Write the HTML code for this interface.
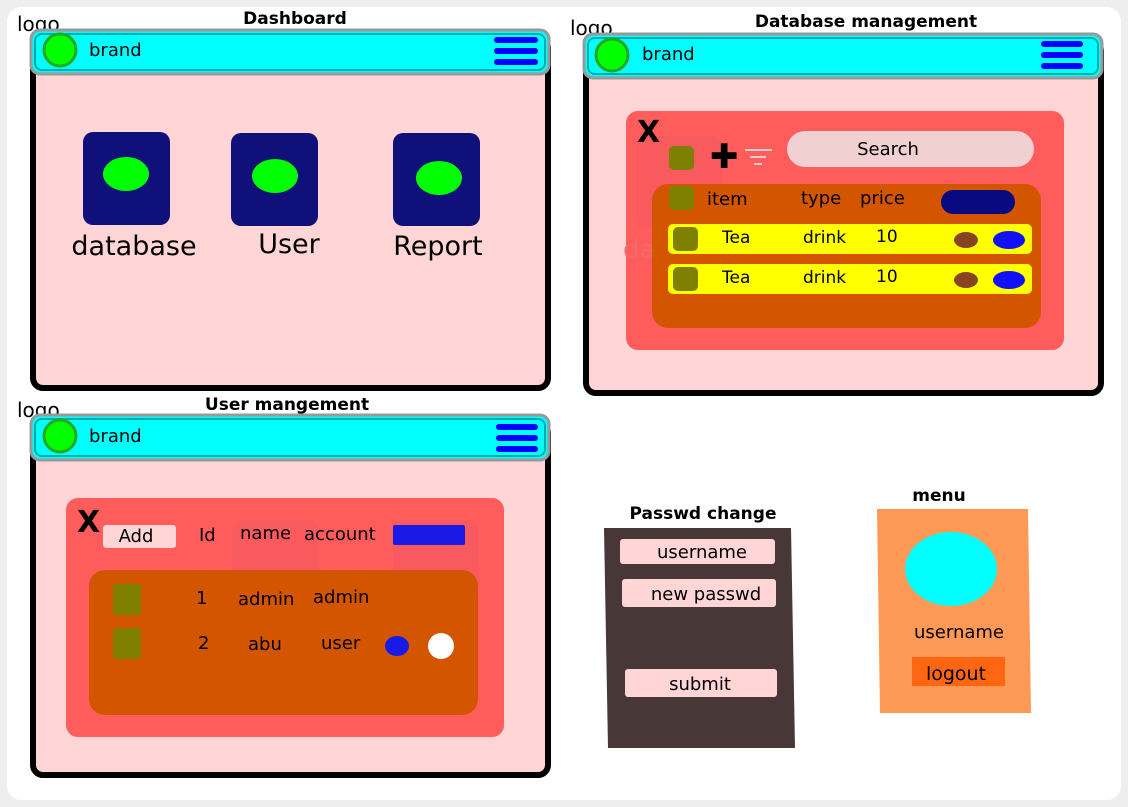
<!DOCTYPE html>
<html><head><style>body{margin:0;background:#eee}svg{display:block}text{font-family:"DejaVu Sans","Liberation Sans",sans-serif}</style></head><body>
<svg width="1128" height="807" viewBox="0 0 1128 807" xmlns="http://www.w3.org/2000/svg">
<rect x="0" y="0" width="1128" height="807" fill="#eeeeee"/>
<rect x="7" y="7" width="1114" height="793" rx="14" fill="#ffffff"/>

<text x="295" y="24" font-size="17" font-weight="bold" text-anchor="middle">Dashboard</text>
<text x="17" y="31" font-size="20">logo</text>
<rect x="33" y="38" width="515" height="350" rx="10" fill="#ffd5d5" stroke="#000" stroke-width="6"/>
<rect x="31" y="30" width="518" height="44" rx="9" fill="#00ffff" stroke="#999" stroke-width="3"/>
<rect x="35" y="34" width="510" height="36" rx="7" fill="none" stroke="#00aaaa" stroke-width="2"/>
<circle cx="60" cy="50" r="16" fill="#00ff00" stroke="#22aa22" stroke-width="3"/>
<text x="89" y="56" font-size="18">brand</text>
<g stroke="#0000ff" stroke-width="6" stroke-linecap="round"><line x1="497" y1="40" x2="535" y2="40"/><line x1="497" y1="51" x2="535" y2="51"/><line x1="497" y1="62" x2="535" y2="62"/></g>
<g fill="#10107a"><rect x="83" y="132" width="87" height="93" rx="10"/><rect x="231" y="133" width="87" height="93" rx="10"/><rect x="393" y="133" width="87" height="93" rx="10"/></g>
<g fill="#00ff00"><ellipse cx="126" cy="174" rx="23" ry="17"/><ellipse cx="275" cy="176" rx="23" ry="17"/><ellipse cx="439" cy="178" rx="23" ry="17"/></g>
<text x="134" y="255" font-size="27" text-anchor="middle">database</text>
<text x="289" y="253" font-size="27" text-anchor="middle">User</text>
<text x="438" y="255" font-size="27" text-anchor="middle">Report</text>

<text x="866" y="27" font-size="17" font-weight="bold" text-anchor="middle">Database management</text>
<text x="570" y="35" font-size="20">logo</text>
<rect x="586" y="41" width="515" height="352" rx="10" fill="#ffd5d5" stroke="#000" stroke-width="6"/>
<rect x="584" y="34" width="518" height="44" rx="9" fill="#00ffff" stroke="#999" stroke-width="3"/>
<rect x="588" y="38" width="510" height="36" rx="7" fill="none" stroke="#00aaaa" stroke-width="2"/>
<circle cx="612" cy="55" r="16" fill="#00ff00" stroke="#22aa22" stroke-width="3"/>
<text x="642" y="60" font-size="18">brand</text>
<g stroke="#0000ff" stroke-width="6" stroke-linecap="round"><line x1="1044" y1="44" x2="1080" y2="44"/><line x1="1044" y1="55" x2="1080" y2="55"/><line x1="1044" y1="66" x2="1080" y2="66"/></g>
<rect x="626" y="111" width="438" height="239" rx="12" fill="#ff5c5c"/>
<rect x="636" y="136" width="86" height="93" rx="10" fill="#f95a5e"/>
<text x="623" y="258" font-size="26" fill="#f56868">da</text>
<text x="637" y="142" font-size="30" font-weight="bold">X</text>
<rect x="669" y="146" width="25" height="24" rx="5" fill="#808000"/>
<text x="710" y="168" font-size="34" font-weight="bold">✚</text>
<g stroke="#ffcccc" stroke-width="2"><line x1="745" y1="150" x2="772" y2="150"/><line x1="750" y1="157" x2="766" y2="157"/><line x1="754" y1="164" x2="762" y2="164"/></g>
<rect x="787" y="131" width="247" height="36" rx="18" fill="#f0d0d0"/>
<text x="888" y="155" font-size="18" text-anchor="middle">Search</text>
<rect x="652" y="184" width="389" height="144" rx="16" fill="#d45500"/>
<rect x="669" y="186" width="25" height="24" rx="5" fill="#808000"/>
<text x="707" y="205" font-size="18">item</text>
<text x="801" y="204" font-size="18">type</text>
<text x="860" y="204" font-size="18">price</text>
<rect x="941" y="190" width="74" height="24" rx="12" fill="#0a0a80"/>
<g><rect x="668" y="224" width="364" height="30" rx="5" fill="#ffff00"/><rect x="673" y="227" width="25" height="24" rx="5" fill="#808000"/>
<text x="722" y="243" font-size="17">Tea</text><text x="803" y="243" font-size="17">drink</text><text x="876" y="242" font-size="17">10</text>
<ellipse cx="966" cy="240" rx="12" ry="8" fill="#884422"/><ellipse cx="1009" cy="240" rx="16" ry="9" fill="#1010ff"/></g>
<g><rect x="668" y="264" width="364" height="30" rx="5" fill="#ffff00"/><rect x="673" y="267" width="25" height="24" rx="5" fill="#808000"/>
<text x="722" y="283" font-size="17">Tea</text><text x="803" y="283" font-size="17">drink</text><text x="876" y="282" font-size="17">10</text>
<ellipse cx="966" cy="280" rx="12" ry="8" fill="#884422"/><ellipse cx="1009" cy="280" rx="16" ry="9" fill="#1010ff"/></g>

<text x="287" y="410" font-size="17" font-weight="bold" text-anchor="middle">User mangement</text>
<text x="17" y="417" font-size="20">logo</text>
<rect x="33" y="423" width="515" height="352" rx="10" fill="#ffd5d5" stroke="#000" stroke-width="6"/>
<rect x="31" y="415" width="518" height="45" rx="9" fill="#00ffff" stroke="#999" stroke-width="3"/>
<rect x="35" y="419" width="510" height="37" rx="7" fill="none" stroke="#00aaaa" stroke-width="2"/>
<circle cx="60" cy="436" r="16" fill="#00ff00" stroke="#22aa22" stroke-width="3"/>
<text x="89" y="442" font-size="18">brand</text>
<g stroke="#0000ff" stroke-width="6" stroke-linecap="round"><line x1="499" y1="427" x2="535" y2="427"/><line x1="499" y1="438" x2="535" y2="438"/><line x1="499" y1="449" x2="535" y2="449"/></g>
<rect x="66" y="498" width="438" height="239" rx="12" fill="#ff5c5c"/>
<rect x="232" y="520" width="86" height="80" rx="10" fill="#f95a5e"/>
<rect x="393" y="520" width="86" height="80" rx="10" fill="#f95a5e"/>
<text x="77" y="532" font-size="30" font-weight="bold">X</text>
<rect x="103" y="525" width="73" height="23" rx="3" fill="#ffd5d5"/>
<text x="136" y="542" font-size="18" text-anchor="middle">Add</text>
<text x="199" y="541" font-size="18">Id</text>
<text x="240" y="539" font-size="18">name</text>
<text x="304" y="540" font-size="18">account</text>
<rect x="393" y="525" width="72" height="20" rx="2" fill="#1a1ae6"/>
<rect x="89" y="570" width="389" height="145" rx="16" fill="#d45500"/>
<rect x="113" y="584" width="28" height="31" rx="3" fill="#808000"/>
<rect x="113" y="628" width="28" height="31" rx="3" fill="#808000"/>
<text x="196" y="604" font-size="18">1</text>
<text x="238" y="605" font-size="18">admin</text>
<text x="313" y="603" font-size="18">admin</text>
<text x="198" y="649" font-size="18">2</text>
<text x="248" y="650" font-size="18">abu</text>
<text x="321" y="649" font-size="18">user</text>
<ellipse cx="397" cy="646" rx="12" ry="10" fill="#1a1ae6"/>
<circle cx="441" cy="646" r="13" fill="#ffffff"/>

<text x="703" y="519" font-size="17" font-weight="bold" text-anchor="middle">Passwd change</text>
<polygon points="604,528 791,528 795,748 608,748" fill="#483737"/>
<rect x="620" y="539" width="155" height="25" rx="3" fill="#ffd5d5"/>
<text x="702" y="558" font-size="18" text-anchor="middle">username</text>
<rect x="622" y="579" width="154" height="28" rx="3" fill="#ffd5d5"/>
<text x="706" y="600" font-size="18" text-anchor="middle">new passwd</text>
<rect x="625" y="669" width="152" height="28" rx="3" fill="#ffd5d5"/>
<text x="700" y="690" font-size="18" text-anchor="middle">submit</text>

<text x="939" y="501" font-size="17" font-weight="bold" text-anchor="middle">menu</text>
<polygon points="877,509 1028,509 1031,713 880,713" fill="#ff9955"/>
<ellipse cx="951" cy="569" rx="46" ry="37" fill="#00ffff"/>
<text x="959" y="638" font-size="18" text-anchor="middle">username</text>
<rect x="912" y="657" width="93" height="29" fill="#ff6611"/>
<text x="956" y="680" font-size="19" text-anchor="middle">logout</text>
</svg>
</body></html>
